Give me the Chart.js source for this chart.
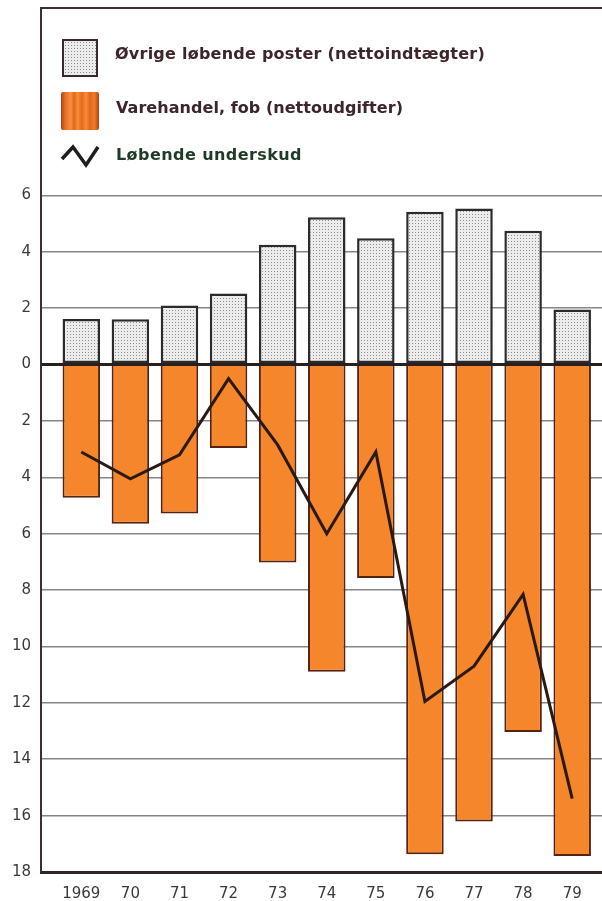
<!DOCTYPE html>
<html>
<head>
<meta charset="utf-8">
<script src="https://cdn.jsdelivr.net/npm/chart.js@4.4.1/dist/chart.umd.min.js"></script>
<style>
  body { margin: 0; background: #fff; }
  #wrap { position: relative; width: 602px; height: 901px; overflow: hidden; }
  canvas { position: absolute; left: 0; top: 0; }
  .txt { position: absolute; font-family: "DejaVu Sans", sans-serif; font-weight: bold; font-size: 16px;
         line-height: 20px; white-space: nowrap; color: #3d2529; }
  .box { position: absolute; box-sizing: border-box; }
</style>
</head>
<body>
<div id="wrap">
  <canvas id="chart" width="602" height="901"></canvas>
  <div class="box" style="left:62px;top:39px;width:36px;height:38px;border:2.5px solid #3a2a2c;
       background-color:#ececec;background-image:radial-gradient(#8c8c8c 0.7px, transparent 0.9px);background-size:3px 3px;"></div>
  <div class="txt" id="t1" style="left:115px;top:44px;">Øvrige løbende poster (nettoindtægter)</div>
  <div class="box" style="left:61px;top:92px;width:38px;height:38px;border-radius:2px;
       background:linear-gradient(to right,#a9461a 0%,#e8702a 12%,#f9913a 26%,#e2661f 34%,#f98d34 44%,#e6691f 55%,#f98d34 66%,#e2661f 76%,#f07a2a 88%,#a9461a 100%);"></div>
  <div class="txt" id="t2" style="left:116px;top:98px;">Varehandel, fob (nettoudgifter)</div>
  <svg class="box" style="left:58px;top:141px;" width="46" height="30">
    <polyline points="4,18 15,6 28,24 40,6" fill="none" stroke="#1e1e1e" stroke-width="3.5" stroke-linejoin="miter"/>
  </svg>
  <div class="txt" id="t3" style="left:116px;top:145px;color:#1f3a26;">Løbende underskud</div>
</div>
<script>
// år og værdier (mia. kr.)
const years = [1969, 1970, 1971, 1972, 1973, 1974, 1975, 1976, 1977, 1978, 1979];
const xLabels = ['1969', '70', '71', '72', '73', '74', '75', '76', '77', '78', '79'];
const otherIncome = [1.62, 1.61, 2.10, 2.52, 4.25, 5.23, 4.48, 5.42, 5.54, 4.75, 1.95];
const tradeDeficit = [4.72, 5.65, 5.28, 2.96, 7.02, 10.9, 7.57, 17.37, 16.21, 13.03, 17.43];
const currentDeficit = [3.1, 4.05, 3.2, 0.5, 2.85, 6.0, 3.1, 11.95, 10.7, 8.15, 15.4];
const yTicks = [-18, -16, -14, -12, -10, -8, -6, -4, -2, 0, 2, 4, 6];

// fit legend texts to the widths in the original
[['t1', 370], ['t2', 287], ['t3', 186]].forEach(function (p) {
  const el = document.getElementById(p[0]);
  const w = el.getBoundingClientRect().width;
  const n = el.textContent.length;
  el.style.letterSpacing = ((p[1] - w) / n) + 'px';
});

// dotted raster for the grey bars
const tile = document.createElement('canvas');
tile.width = 3; tile.height = 3;
const tctx = tile.getContext('2d');
tctx.fillStyle = '#ececec';
tctx.fillRect(0, 0, 3, 3);
tctx.fillStyle = '#8e8e8e';
tctx.fillRect(1, 1, 1, 1);
const dots = tctx.createPattern(tile, 'repeat');

const framePlugin = {
  id: 'frame',
  afterDraw(chart) {
    const a = chart.chartArea, ctx = chart.ctx;
    ctx.save();
    ctx.strokeStyle = '#3a3030';
    ctx.lineWidth = 2;
    ctx.beginPath();
    ctx.moveTo(a.left - 1, a.top);
    ctx.lineTo(a.right, a.top);
    ctx.stroke();
    ctx.restore();
  }
};

const ctx = document.getElementById('chart');
new Chart(ctx, {
  data: {
    labels: years,
    datasets: [
      {
        type: 'line',
        label: 'Løbende underskud',
        data: currentDeficit.map(v => -v),
        borderColor: '#2a1a14',
        borderWidth: 3,
        pointRadius: 0,
        tension: 0,
        fill: false,
        borderJoinStyle: 'miter',
        order: 0
      },
      {
        type: 'bar',
        label: 'Øvrige løbende poster (nettoindtægter)',
        data: otherIncome,
        backgroundColor: dots,
        borderColor: '#2e2a2a',
        borderWidth: 2.5,
        borderSkipped: false,
        grouped: false,
        barPercentage: 0.764,
        categoryPercentage: 1,
        order: 1
      },
      {
        type: 'bar',
        label: 'Varehandel, fob (nettoudgifter)',
        data: tradeDeficit.map(v => -v),
        backgroundColor: '#f6862c',
        borderColor: '#57230f',
        borderWidth: 2,
        grouped: false,
        barPercentage: 0.764,
        categoryPercentage: 1,
        order: 1
      }
    ]
  },
  options: {
    responsive: false,
    animation: false,
    layout: { padding: { top: 8, right: 0, bottom: 0, left: 0 } },
    plugins: { legend: { display: false }, tooltip: { enabled: false } },
    scales: {
      x: {
        type: 'linear',
        offset: false,
        min: 1968.179,
        max: 1979.607,
        afterBuildTicks: s => { s.ticks = years.map(v => ({ value: v })); },
        afterFit: s => { s.height = 29; s.paddingLeft = 0; s.paddingRight = 0; },
        grid: { display: false, drawTicks: false, offset: false },
        border: { display: true, color: '#2f2626', width: 3 },
        ticks: {
          padding: 13,
          color: '#3a3a3a',
          font: { family: 'DejaVu Sans', size: 15 },
          maxRotation: 0,
          autoSkip: false,
          callback: v => xLabels[years.indexOf(v)]
        }
      },
      y: {
        min: -18,
        max: 12.65,
        afterBuildTicks: s => { s.ticks = yTicks.map(v => ({ value: v })); },
        afterFit: s => { s.width = 41; s.paddingTop = 0; s.paddingBottom = 0; },
        grid: {
          drawTicks: false,
          color: c => c.tick && c.tick.value === 0 ? '#2a1f1f' : '#858585',
          lineWidth: c => c.tick && c.tick.value === 0 ? 3 : 1.5
        },
        border: { display: true, color: '#3a3030', width: 2 },
        ticks: {
          padding: 10,
          color: '#3a3a3a',
          font: { family: 'DejaVu Sans', size: 15 },
          callback: v => String(Math.abs(v))
        }
      }
    }
  },
  plugins: [framePlugin]
});
</script>
</body>
</html>
